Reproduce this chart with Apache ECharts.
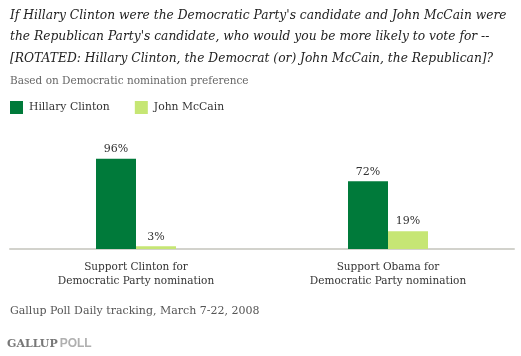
<!DOCTYPE html>
<html>
<head>
<meta charset="utf-8">
<script src="https://cdn.jsdelivr.net/npm/echarts@6/dist/echarts.min.js"></script>
<style>html,body{margin:0;padding:0;background:#fff;}#c{width:521px;height:356px;}</style>
</head>
<body>
<div id="c"></div>
<script>
const categories = ['Support Clinton for\nDemocratic Party nomination', 'Support Obama for\nDemocratic Party nomination'];
const seriesNames = ['Hillary Clinton', 'John McCain'];
const clintonValues = [96, 72];
const mccainValues = [3, 19];
const titleLines = [
  "If Hillary Clinton were the Democratic Party's candidate and John McCain were",
  "the Republican Party's candidate, who would you be more likely to vote for --",
  "[ROTATED: Hillary Clinton, the Democrat (or) John McCain, the Republican]?"
];

const serif = '"DejaVu Serif", "Liberation Serif", serif';
// fit the title's first line to the reference width
const cv = document.createElement('canvas').getContext('2d');
cv.font = 'italic 13px ' + serif;
const w13 = cv.measureText(titleLines[0]).width;
const titleSize = Math.min(14, 13 * 497 / w13);

const chart = echarts.init(document.getElementById('c'), null, {renderer: 'canvas'});
chart.setOption({
  backgroundColor: '#fff',
  animation: false,
  title: [
    {
      text: titleLines.join('\n'),
      left: 10, top: 5, padding: 0,
      textStyle: {fontFamily: serif, fontStyle: 'italic', fontWeight: 'normal', fontSize: titleSize, lineHeight: 21.5, color: '#222'}
    },
    {
      text: 'Based on Democratic nomination preference',
      left: 10, top: 76, padding: 0,
      textStyle: {fontFamily: serif, fontWeight: 'normal', fontSize: 10.5, color: '#666'}
    },
    {
      text: 'Gallup Poll Daily tracking, March 7-22, 2008',
      left: 10, top: 306, padding: 0,
      textStyle: {fontFamily: serif, fontWeight: 'normal', fontSize: 11, color: '#555'}
    },
    {
      text: '{a|GALLUP}{b|POLL}',
      left: 7, top: 338, padding: 0,
      textStyle: {
        rich: {
          a: {fontFamily: serif, fontSize: 11, color: '#777', padding: [0, 2, 0, 0]},
          b: {fontFamily: '"Liberation Sans", sans-serif', fontSize: 12, color: '#b0b0b0'}
        }
      }
    }
  ],
  legend: {
    left: 10, top: 101, padding: 0,
    icon: 'rect', itemWidth: 13, itemHeight: 13, itemGap: 25,
    textStyle: {fontFamily: serif, fontSize: 10.8, color: '#333', padding: [0, 0, 0, 1]},
    data: seriesNames
  },
  grid: {left: 10, right: 7, top: 155, bottom: 107, containLabel: false},
  xAxis: {
    type: 'category', data: categories,
    axisLine: {show: true, lineStyle: {color: '#d2d2cc', width: 2}},
    axisTick: {show: false},
    axisLabel: {fontFamily: serif, fontSize: 10.5, color: '#333', lineHeight: 14, margin: 11}
  },
  yAxis: {type: 'value', min: 0, max: 100, show: false, splitLine: {show: false}},
  series: [
    {
      name: seriesNames[0], type: 'bar', data: clintonValues, barWidth: 40, barGap: '0%',
      itemStyle: {color: '#007a3a'},
      label: {show: true, position: 'top', distance: 4, formatter: '{c}%', fontFamily: serif, fontSize: 11, color: '#333'}
    },
    {
      name: seriesNames[1], type: 'bar', data: mccainValues, barWidth: 40, barGap: '0%',
      itemStyle: {color: '#c6e674'},
      label: {show: true, position: 'top', distance: 4, formatter: '{c}%', fontFamily: serif, fontSize: 11, color: '#333'}
    }
  ]
});
</script>
</body>
</html>
